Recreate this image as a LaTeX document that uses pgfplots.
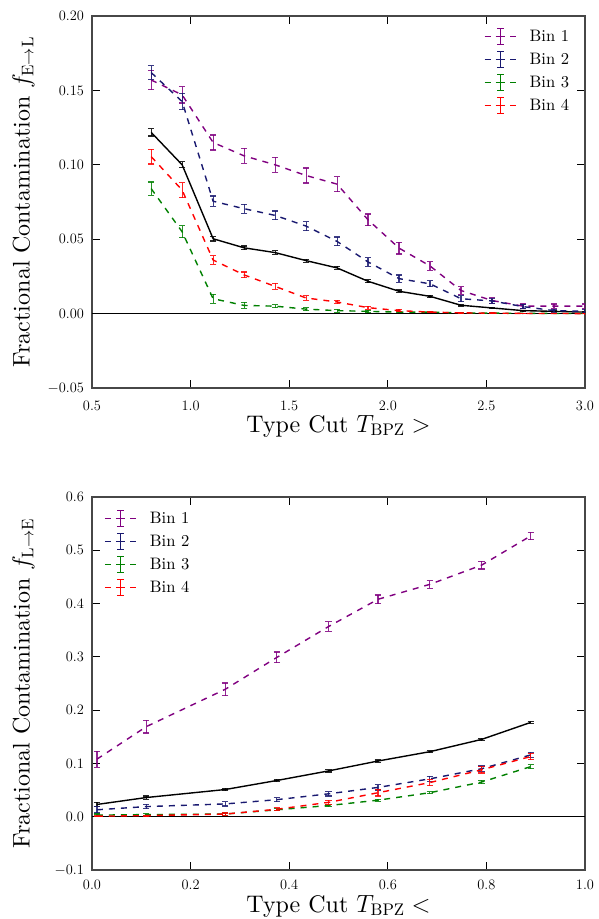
\documentclass[border=0pt]{standalone}
\usepackage{fontspec}
\setmainfont{lmroman10-regular.otf}
\usepackage{pgfplots}
\usepackage{pgfplotstable}
\pgfplotsset{compat=1.18}

\definecolor{cpurple}{RGB}{128,0,128}
\definecolor{cnavy}{RGB}{25,25,112}
\definecolor{cgreen}{RGB}{0,128,0}
\definecolor{cred}{RGB}{255,0,0}

\pgfplotstableread{
x      b1     e1     b2     e2     b3     e3     b4     e4     ba     ea
0.8    0.157  0.0065 0.162  0.0045 0.084  0.0045 0.1055 0.005  0.1218 0.0025
0.9571 0.147  0.0055 0.1425 0.0056 0.055  0.004  0.083  0.005  0.100  0.002
1.1143 0.115  0.005  0.0755 0.0035 0.010  0.003  0.036  0.003  0.0503 0.0015
1.2714 0.106  0.005  0.0705 0.003  0.0055 0.002  0.026  0.002  0.0442 0.0012
1.4286 0.100  0.005  0.066  0.003  0.005  0.001  0.0183 0.002  0.041  0.0012
1.5857 0.0928 0.005  0.0588 0.003  0.003  0.001  0.0105 0.0015 0.0356 0.001
1.7429 0.087  0.005  0.0485 0.003  0.002  0.001  0.0078 0.0012 0.0307 0.001
1.9    0.063  0.004  0.0347 0.003  0.0015 0.0008 0.004  0.001  0.0217 0.001
2.0571 0.044  0.004  0.0235 0.0025 0.001  0.0005 0.002  0.0008 0.015  0.0008
2.2143 0.032  0.003  0.020  0.002  0.001  0.0005 0.001  0.0005 0.0116 0.0008
2.3714 0.0155 0.0025 0.010  0.002  0.0005 0.0003 0.0005 0.0003 0.0056 0.0005
2.5286 0.0088 0.002  0.0085 0.0015 0.0003 0.0002 0.0003 0.0002 0.0038 0.0005
2.6857 0.005  0.0015 0.0047 0.0015 0.0002 0.0001 0.0001 0.0001 0.002  0.0003
2.8429 0.005  0.0015 0.002  0.001  0.0001 0.0001 0.0001 0.0001 0.0015 0.0003
3.0    0.005  0.0015 0.0015 0.001  0.0001 0.0001 0.0    0.0001 0.001  0.0003
}\toptab

\pgfplotstableread{
x     b1    e1    b2    e2    b3    e3    b4    e4    ba     ea
0.01  0.108 0.015 0.013 0.006 0.003 0.002 0.001 0.001 0.023  0.004
0.11  0.169 0.012 0.019 0.004 0.004 0.002 0.002 0.001 0.036  0.003
0.27  0.239 0.012 0.024 0.004 0.005 0.002 0.005 0.002 0.051  0.002
0.375 0.299 0.010 0.032 0.004 0.013 0.002 0.014 0.003 0.068  0.002
0.48  0.357 0.009 0.043 0.004 0.021 0.002 0.027 0.004 0.086  0.002
0.58  0.408 0.008 0.055 0.005 0.031 0.002 0.045 0.006 0.1045 0.002
0.685 0.436 0.007 0.071 0.005 0.045 0.002 0.064 0.006 0.122  0.002
0.79  0.472 0.007 0.090 0.005 0.065 0.003 0.088 0.006 0.145  0.002
0.89  0.527 0.007 0.116 0.005 0.094 0.004 0.113 0.006 0.177  0.002
}\bottab

\pgfplotsset{
  myaxis/.style={
    scale only axis, width=493pt,
    tick align=inside, major tick length=8pt,
    axis line style={draw=black!72, line width=2pt},
    every tick/.style={black, line width=1.2pt},
    tick label style={font=\fontsize{14.6}{16}\selectfont},
    yticklabel style={xshift=-4.5pt},
    label style={font=\fontsize{24}{28}\selectfont},
    ylabel style={at={(axis description cs:-0.139,0.5)}, anchor=center},
    legend cell align=left,
    legend style={draw=none, fill=none, font=\fontsize{16.6}{18}\selectfont,
      inner sep=0pt, row sep=6pt, column sep=0pt, nodes={inner sep=0pt},
      /tikz/every odd column/.append style={column sep=12.7pt}},
  },
  binplot/.style={
    color=#1, line width=1.4pt, dash pattern=on 6pt off 6pt, mark=none,
    error bars/y dir=both, error bars/y explicit,
    error bars/error bar style={line width=1.2pt, solid, opacity=0.85},
    error bars/error mark options={rotate=90, mark size=3.2pt, line width=1.2pt, solid, opacity=0.85},
  },
  binlegend/.style={
    legend image code/.code={
      \draw[line width=1.4pt, dash pattern=on 6pt off 5pt on 9.6pt off 5pt] (0pt,0pt) -- (31.6pt,0pt);
      \draw[line width=1.2pt, solid] (15.8pt,-7.9pt) -- (15.8pt,7.9pt)
        (12.6pt,-7.9pt) -- (19pt,-7.9pt) (12.6pt,7.9pt) -- (19pt,7.9pt);
    }
  },
}

\begin{document}
\begin{tikzpicture}
\begin{axis}[myaxis, at={(0pt,0pt)}, anchor=south west, height=372pt,
  xmin=0.5, xmax=3, ymin=-0.05, ymax=0.2,
  xtick={0.5,1.0,1.5,2.0,2.5,3.0},
  ytick={-0.05,0,0.05,0.1,0.15,0.2},
  xticklabel style={yshift=-10pt, /pgf/number format/.cd, fixed, fixed zerofill, precision=1},
  yticklabel style={/pgf/number format/.cd, fixed, fixed zerofill, precision=2},
  xlabel={Type Cut $T_{\mathrm{BPZ}} >$},
  ylabel={Fractional Contamination $f_{\mathrm{E\to L}}$},
  xlabel style={at={(axis description cs:0.5,0)}, anchor=north, inner sep=0pt, yshift=-27pt},
  legend style={at={(1,1)}, anchor=north east, xshift=-15.7pt, yshift=-11.5pt},
]
\addplot[black, line width=1.5pt, forget plot] coordinates {(0.5,0) (3,0)};
\addplot[binplot=black, solid, forget plot] table[x=x, y=ba, y error=ea] {\toptab};
\addplot[binplot=cpurple, binlegend] table[x=x, y=b1, y error=e1] {\toptab};
\addlegendentry{Bin 1}
\addplot[binplot=cnavy, binlegend] table[x=x, y=b2, y error=e2] {\toptab};
\addlegendentry{Bin 2}
\addplot[binplot=cgreen, binlegend] table[x=x, y=b3, y error=e3] {\toptab};
\addlegendentry{Bin 3}
\addplot[binplot=cred, binlegend] table[x=x, y=b4, y error=e4] {\toptab};
\addlegendentry{Bin 4}
\end{axis}

\begin{axis}[myaxis, at={(0pt,-482pt)}, anchor=south west, height=373pt,
  xmin=0, xmax=1, ymin=-0.1, ymax=0.6,
  xtick={0,0.2,0.4,0.6,0.8,1.0},
  ytick={-0.1,0,0.1,0.2,0.3,0.4,0.5,0.6},
  xticklabel style={yshift=-7pt, /pgf/number format/.cd, fixed, fixed zerofill, precision=1},
  yticklabel style={/pgf/number format/.cd, fixed, fixed zerofill, precision=1},
  xlabel={Type Cut $T_{\mathrm{BPZ}} <$},
  ylabel={Fractional Contamination $f_{\mathrm{L\to E}}$},
  xlabel style={at={(axis description cs:0.5,0)}, anchor=north, inner sep=0pt, yshift=-25pt},
  legend style={at={(0,1)}, anchor=north west, xshift=12pt, yshift=-12.5pt},
]
\addplot[black, line width=1.5pt, forget plot] coordinates {(0,0) (1,0)};
\addplot[binplot=black, solid, forget plot] table[x=x, y=ba, y error=ea] {\bottab};
\addplot[binplot=cpurple, binlegend] table[x=x, y=b1, y error=e1] {\bottab};
\addlegendentry{Bin 1}
\addplot[binplot=cnavy, binlegend] table[x=x, y=b2, y error=e2] {\bottab};
\addlegendentry{Bin 2}
\addplot[binplot=cgreen, binlegend] table[x=x, y=b3, y error=e3] {\bottab};
\addlegendentry{Bin 3}
\addplot[binplot=cred, binlegend] table[x=x, y=b4, y error=e4] {\bottab};
\addlegendentry{Bin 4}
\end{axis}
\pgfresetboundingbox
\useasboundingbox (-92pt,-531pt) rectangle (506pt,388pt);
\end{tikzpicture}
\end{document}
